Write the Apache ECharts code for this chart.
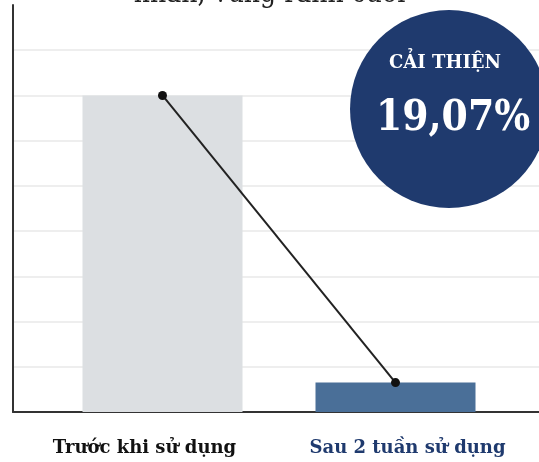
<!DOCTYPE html>
<html>
<head>
<meta charset="utf-8">
<script src="https://cdn.jsdelivr.net/npm/echarts@6/dist/echarts.min.js"></script>
<style>
  html, body { margin: 0; padding: 0; background: #fff; }
  #chart { width: 539px; height: 462px; }
</style>
</head>
<body>
<div id="chart"></div>
<script>
// dữ liệu
const categories = ['Trước khi sử dụng', 'Sau 2 tuần sử dụng'];
const barValues = [7, 0.65];
const lineValues = [7, 0.65];
const barColors = ['#dcdfe2', '#4a6f98'];
const labelColors = ['#111111', '#1f3a6e'];
const titleText = 'nhăn, vùng rãnh cười';
const badgeTitle = 'CẢI THIỆN';
const badgeValue = '19,07%';

const serif = '"DejaVu Serif", "Liberation Serif", serif';
const serifNarrow = '"DejaVu Serif Condensed", "DejaVu Serif", serif';
const chart = echarts.init(document.getElementById('chart'));

chart.setOption({
  animation: false,
  title: {
    text: titleText,
    left: 'center',
    top: -24,
    textStyle: { fontFamily: serifNarrow, fontSize: 28, fontWeight: 'normal', color: '#222' }
  },
  grid: [
    { left: 13, right: 0, top: 5, bottom: 50 },   // trục
    { left: 13, right: 0, top: 50, bottom: 50 },  // đường lưới
    { left: 46, width: 466, top: 5, bottom: 50 }  // cột + đường
  ],
  xAxis: [
    {
      gridIndex: 0,
      type: 'category',
      data: categories,
      axisLine: { lineStyle: { color: '#333', width: 2 } },
      axisTick: { show: false },
      axisLabel: {
        interval: 0,
        hideOverlap: false,
        margin: 27,
        fontFamily: serif,
        fontSize: 18,
        fontWeight: 'bold',
        color: (v, i) => labelColors[i]
      }
    },
    { gridIndex: 1, type: 'category', data: categories, show: false },
    { gridIndex: 2, type: 'category', data: categories, show: false }
  ],
  yAxis: [
    {
      gridIndex: 0, type: 'value', min: 0, max: 9, interval: 1,
      axisLine: { show: true, lineStyle: { color: '#333', width: 2 } },
      axisLabel: { show: false }, axisTick: { show: false }, splitLine: { show: false }
    },
    {
      gridIndex: 1, type: 'value', min: 0, max: 8, interval: 1,
      axisLine: { show: false }, axisLabel: { show: false }, axisTick: { show: false },
      splitLine: { lineStyle: { color: '#eeeeee', width: 2 } }
    },
    { gridIndex: 2, type: 'value', min: 0, max: 9, show: false, splitLine: { show: false } }
  ],
  series: [
    {
      type: 'bar',
      xAxisIndex: 2, yAxisIndex: 2,
      barWidth: 160,
      data: barValues.map((v, i) => ({ value: v, itemStyle: { color: barColors[i] } }))
    },
    {
      type: 'line',
      xAxisIndex: 2, yAxisIndex: 2,
      data: lineValues,
      symbol: 'circle',
      symbolSize: 9,
      itemStyle: { color: '#111' },
      lineStyle: { color: '#222', width: 2 },
      z: 5
    }
  ],
  graphic: [
    {
      type: 'circle',
      shape: { cx: 449, cy: 109, r: 99 },
      style: { fill: '#1f3a6e' },
      z: 10
    },
    {
      type: 'text',
      x: 445, y: 63,
      style: {
        text: badgeTitle, fill: '#fff', font: 'bold 18px ' + serif,
        align: 'center', verticalAlign: 'middle'
      },
      z: 11
    },
    {
      type: 'text',
      x: 453, y: 119,
      style: {
        text: badgeValue, fill: '#fff', font: 'bold 42px ' + serifNarrow,
        align: 'center', verticalAlign: 'middle'
      },
      z: 11
    }
  ]
});
</script>
</body>
</html>
